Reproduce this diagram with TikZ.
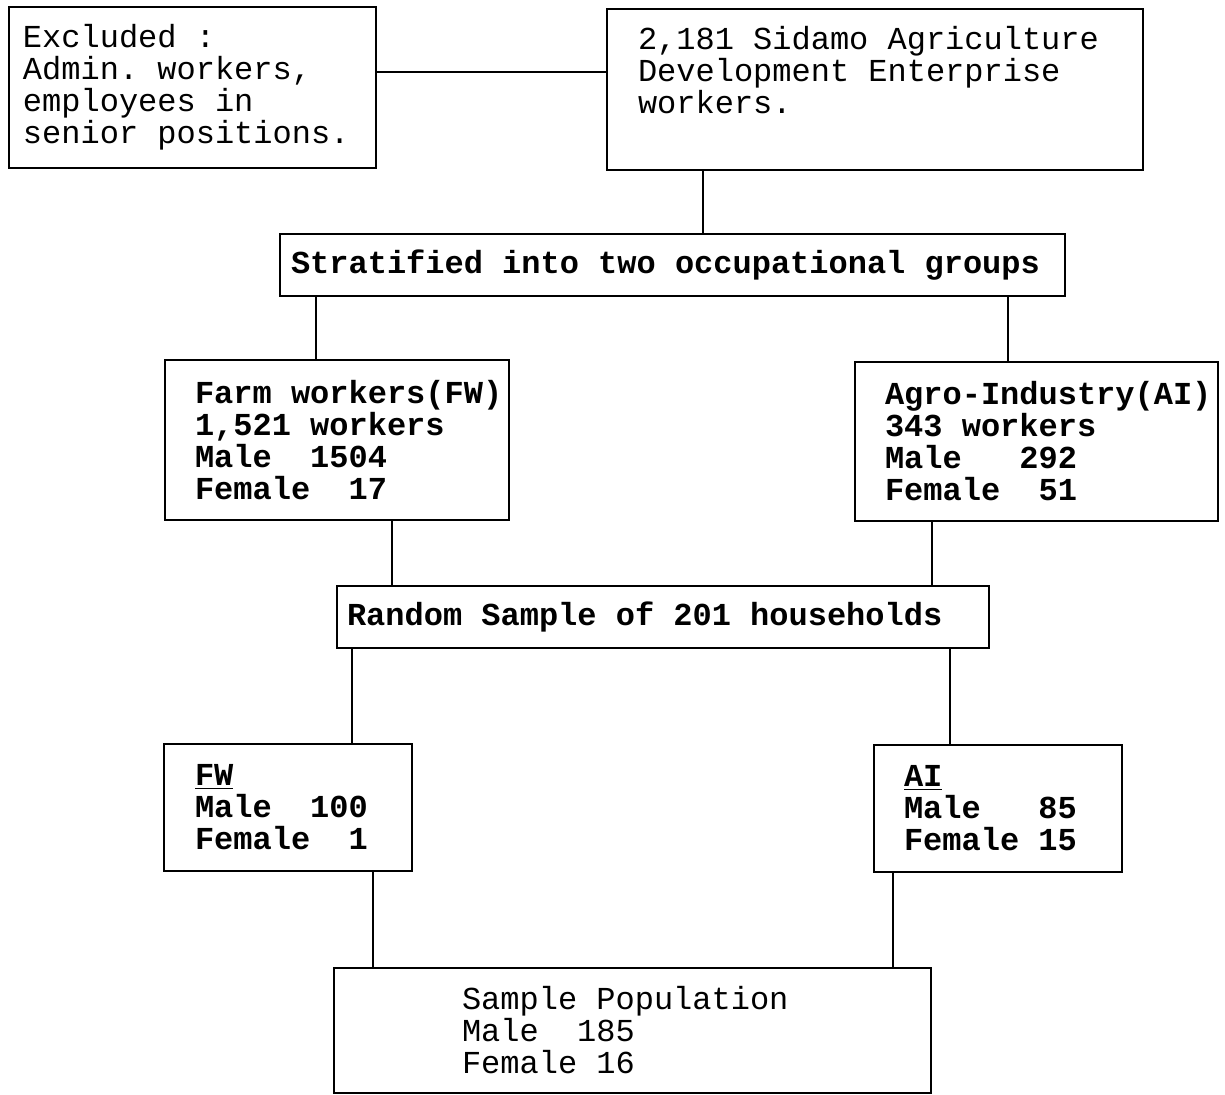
\documentclass[tikz,border=0pt]{standalone}
\usepackage{fontspec}
\setmainfont{Liberation Mono}
\setlength{\lineskiplimit}{-8pt}
\newcommand\boxfont{\fontsize{16}{16}\selectfont}
\newcommand\monospaces{\setlength{\spaceskip}{0.6em}\setlength{\xspaceskip}{0.6em}}
\tikzset{
  box/.style={draw, line width=1pt, anchor=north west, align=left, inner ysep=0pt,
    font=\boxfont, execute at begin node=\monospaces},
  boldbox/.style={box, font=\boxfont\bfseries},
  link/.style={line width=1pt}
}
\begin{document}
\begin{tikzpicture}[x=0.5pt,y=-0.5pt]
\useasboundingbox (0,0) rectangle (1225,1094);
% boxes, placed by their top left corner (pixel grid)
\node[box, inner xsep=7pt, text width=169.5pt, minimum height=80.5pt] (excl) at (8,6)
  {Excluded :\\Admin. workers,\\employees in\\senior positions.};
\node[box, inner xsep=15.5pt, text width=237pt, minimum height=80.5pt, text depth=52pt] (sidamo) at (606,8)
  {2,181 Sidamo Agriculture\\Development Enterprise\\workers.};
\node[boldbox, inner xsep=5.5pt, text width=381.5pt, minimum height=31pt] (strat) at (279,233)
  {Stratified into two occupational groups};
\node[boldbox, inner xsep=15pt, text width=142pt, minimum height=80pt] (fw) at (164,359)
  {\mbox{Farm workers(FW)}\\1,521 workers\\Male\ \ 1504\\Female\ \ 17};
\node[boldbox, inner xsep=15pt, text width=151.5pt, minimum height=79.5pt] (ai) at (854,361)
  {\mbox{Agro-Industry(AI)}\\343 workers\\Male\ \ \ 292\\Female\ \ 51};
\node[boldbox, inner xsep=5pt, text width=316pt, minimum height=31pt] (rand) at (336,585)
  {Random Sample of 201 households};
\node[boldbox, inner xsep=15.5pt, text width=93pt, minimum height=63.5pt] (fwsample) at (163,743)
  {\underline{FW}\\Male\ \ 100\\Female\ \ 1};
\node[boldbox, inner xsep=15pt, text width=94pt, minimum height=63.5pt] (aisample) at (873,744)
  {\underline{AI}\\Male\ \ \ 85\\Female 15};
\node[box, inner xsep=64pt, text width=170.5pt, minimum height=62.5pt] (pop) at (333,967)
  {Sample Population\\Male\ \ 185\\Female 16};
% x positions of the vertical links
\coordinate (l1) at (703,0);
\coordinate (l2) at (316,0);
\coordinate (l3) at (1008,0);
\coordinate (l4) at (392,0);
\coordinate (l5) at (932,0);
\coordinate (l6) at (352,0);
\coordinate (l7) at (950,0);
\coordinate (l8) at (373,0);
\coordinate (l9) at (893,0);
% links
\draw[link] ([yshift=7.75pt]excl.east) -- ([yshift=7.75pt]excl.east -| sidamo.west);
\draw[link] (sidamo.south -| l1) -- (strat.north -| l1);
\draw[link] (strat.south -| l2) -- (fw.north -| l2);
\draw[link] (strat.south -| l3) -- (ai.north -| l3);
\draw[link] (fw.south -| l4) -- (rand.north -| l4);
\draw[link] (ai.south -| l5) -- (rand.north -| l5);
\draw[link] (rand.south -| l6) -- (fwsample.north -| l6);
\draw[link] (rand.south -| l7) -- (aisample.north -| l7);
\draw[link] (fwsample.south -| l8) -- (pop.north -| l8);
\draw[link] (aisample.south -| l9) -- (pop.north -| l9);
\end{tikzpicture}
\end{document}
